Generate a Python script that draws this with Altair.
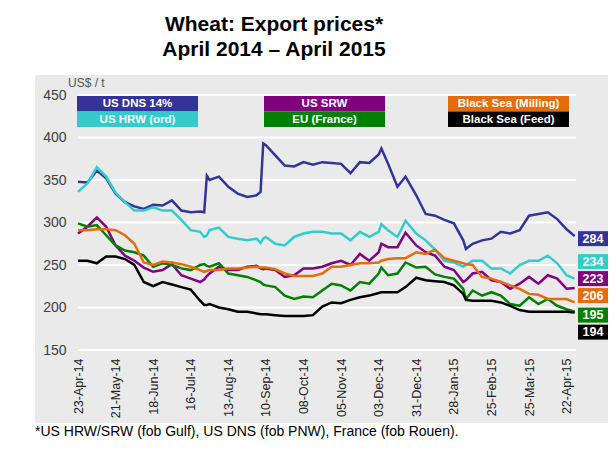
import altair as alt
import pandas as pd

# ---- data -------------------------------------------------------------
dates = [
    "2014-04-23", "2014-04-30", "2014-05-07", "2014-05-14", "2014-05-21", "2014-05-28",
    "2014-06-04", "2014-06-11", "2014-06-18", "2014-06-25", "2014-07-02", "2014-07-09",
    "2014-07-16", "2014-07-23", "2014-07-26", "2014-07-28", "2014-07-30", "2014-08-06",
    "2014-08-13", "2014-08-20", "2014-08-27", "2014-09-03", "2014-09-06", "2014-09-08",
    "2014-09-10", "2014-09-17", "2014-09-24", "2014-10-01", "2014-10-08", "2014-10-15",
    "2014-10-22", "2014-10-29", "2014-11-05", "2014-11-12", "2014-11-19", "2014-11-26",
    "2014-12-03", "2014-12-05", "2014-12-10", "2014-12-17", "2014-12-23", "2014-12-31",
    "2015-01-07", "2015-01-14", "2015-01-21", "2015-01-28", "2015-02-04", "2015-02-06",
    "2015-02-11", "2015-02-18", "2015-02-25", "2015-03-04", "2015-03-11", "2015-03-18",
    "2015-03-25", "2015-04-01", "2015-04-08", "2015-04-15", "2015-04-22", "2015-04-28",
]

us_dns = [348, 347, 361, 352, 334, 324, 319, 316, 321, 320, 326, 314, 312, 313,
          312, 355, 350, 354, 342, 334, 330, 332, 336, 393, 391,
          379, 367, 366, 371, 368, 371, 370, 369, 358, 371, 370, 380, 387,
          369, 342, 354, 332, 310, 308, 303, 299, 279, 269,
          275, 279, 281, 289, 287, 291, 308, 310, 312, 304, 292, 284]

us_hrw = [336, 346, 365, 354, 335, 324, 314, 314, 318, 314, 314, 303, 291, 289,
          283, 285, 291, 294, 283, 281, 279, 281, 276, 281, 283,
          275, 273, 283, 287, 289, 289, 287, 287, 279, 289, 283, 289, 298,
          291, 283, 302, 287, 279, 268, 255, 253, 248, 250,
          255, 255, 246, 246, 240, 250, 255, 255, 261, 252, 238, 234]

us_srw = [287, 295, 306, 295, 273, 261, 255, 247, 242, 244, 251, 238, 234, 230,
          233, 237, 240, 248, 244, 244, 248, 249, 246, 245, 246,
          244, 236, 238, 246, 246, 248, 252, 255, 250, 263, 255, 265, 275,
          271, 271, 288, 273, 265, 261, 248, 244, 230, 232,
          240, 242, 232, 230, 222, 228, 236, 228, 238, 234, 222, 223]

eu_france = [299, 295, 297, 285, 273, 267, 265, 261, 248, 252, 250, 246, 244, 250,
             251, 249, 248, 252, 240, 238, 236, 232, 230, 227, 226,
             224, 214, 210, 213, 212, 220, 228, 226, 220, 230, 228, 240, 247,
             238, 240, 253, 247, 248, 239, 236, 234, 222, 210,
             220, 214, 218, 214, 204, 202, 212, 204, 210, 202, 198, 195]

bs_milling = [291, 291, 292, 292, 291, 285, 275, 253, 250, 254, 253, 251, 248, 244,
              242, 243, 244, 244, 246, 246, 247, 248, 247, 247, 247,
              245, 240, 237, 237, 237, 240, 248, 248, 250, 252, 252, 253, 255,
              257, 258, 258, 265, 263, 268, 258, 255, 252, 251,
              250, 236, 234, 230, 226, 222, 216, 215, 210, 210, 210, 206]

bs_feed = [255, 255, 252, 260, 260, 257, 250, 230, 225, 230, 227, 224, 221, 208,
           203, 203, 204, 200, 198, 195, 195, 193, 192, 192, 192,
           191, 190, 190, 190, 191, 201, 206, 205, 209, 212, 214, 217, 218,
           218, 218, 224, 235, 232, 231, 230, 226, 216, 209,
           208, 208, 208, 206, 202, 197, 195, 195, 195, 195, 195, 194]

series_names = ["US DNS 14%", "US HRW (ord)", "US SRW", "EU (France)",
                "Black Sea (Milling)", "Black Sea (Feed)"]
series_colors = ["#333399", "#33CCCC", "#800080", "#008000", "#E46C0A", "#000000"]
series_values = [us_dns, us_hrw, us_srw, eu_france, bs_milling, bs_feed]

end_values = [284, 234, 223, 206, 195, 194]
end_colors = ["#333399", "#33CCCC", "#800080", "#E46C0A", "#008000", "#000000"]
# where the end-value boxes sit (US$/t), spread out so they do not overlap
end_label_pos = [281, 254, 234, 214, 191, 171]

tick_days = [0, 28, 56, 84, 112, 140, 168, 196, 224, 252, 280, 308, 336, 364]
tick_labels = ["23-Apr-14", "21-May-14", "18-Jun-14", "16-Jul-14", "13-Aug-14",
               "10-Sep-14", "08-Oct-14", "05-Nov-14", "03-Dec-14", "31-Dec-14",
               "28-Jan-15", "25-Feb-15", "25-Mar-15", "22-Apr-15"]
y_ticks = [150, 200, 250, 300, 350, 400, 450]

title_lines = ["Wheat: Export prices*", "April 2014 \u2013 April 2015"]
footnote = "*US HRW/SRW (fob Gulf), US DNS (fob PNW), France (fob Rouen)."
unit_label = "US$ / t"

# ---- build tables -------------------------------------------------------
start = pd.Timestamp(dates[0])
days = [(pd.Timestamp(d) - start).days for d in dates]
rows = []
for name, vals in zip(series_names, series_values):
    for d, v in zip(days, vals):
        rows.append({"day": d, "series": name, "price": v})
df = pd.DataFrame(rows)

W, H = 498, 255
FONT = "Liberation Sans"
X_DOMAIN = [0, 371]
Y_DOMAIN = [150, 450]

xs = alt.Scale(domain=X_DOMAIN, nice=False, zero=False)
ys = alt.Scale(domain=Y_DOMAIN, nice=False, zero=False)

one = pd.DataFrame({"a": [0]})

background = alt.Chart(one).mark_rect(color="#EAEAEA").encode(
    x=alt.value(-43), x2=alt.value(540), y=alt.value(-20), y2=alt.value(328)
)

grid = alt.Chart(pd.DataFrame({"v": y_ticks})).mark_rule(color="white", strokeWidth=2).encode(
    y=alt.Y("v:Q", scale=ys), x=alt.value(0), x2=alt.value(W)
)

label_js = "[" + ",".join("'%s'" % t for t in tick_labels) + "][round(datum.value / 28)]"

lines = alt.Chart(df).mark_line(strokeWidth=2.5).encode(
    x=alt.X("day:Q", scale=xs,
            axis=alt.Axis(values=tick_days, labelExpr=label_js, title=None, grid=False,
                          domain=False, ticks=False, labelAngle=270, labelAlign="right",
                          labelBaseline="middle", labelPadding=8, labelFontSize=12.5,
                          labelColor="#222222", labelFont=FONT, zindex=1,
                          labelOverlap=False)),
    y=alt.Y("price:Q", scale=ys,
            axis=alt.Axis(values=y_ticks, title=None, grid=False, domain=False, ticks=False,
                          labelPadding=12, labelFontSize=14, labelColor="#404040",
                          labelFont=FONT, zindex=1)),
    color=alt.Color("series:N", scale=alt.Scale(domain=series_names, range=series_colors),
                    legend=None),
    detail="series:N",
)

# legend boxes
leg = pd.DataFrame({
    "name": series_names,
    "color": series_colors,
    "x0": [-1, -1, 186, 186, 370, 370],
    "y0": [1, 16.5, 1, 16.5, 1, 16.5],
})
leg["x1"] = leg["x0"] + 121
leg["y1"] = leg["y0"] + 15.5
leg["xc"] = leg["x0"] + 60.5
leg["yc"] = leg["y0"] + 8.3

leg_rect = alt.Chart(leg).mark_rect().encode(
    x=alt.X("x0:Q", scale=None), x2="x1", y=alt.Y("y0:Q", scale=None), y2="y1",
    color=alt.Color("color:N", scale=None),
)
leg_text = alt.Chart(leg).mark_text(color="white", fontWeight="bold", fontSize=11.5,
                                     font=FONT, baseline="middle", align="center").encode(
    x=alt.X("xc:Q", scale=None), y=alt.Y("yc:Q", scale=None), text="name:N"
)

# end labels
ends = pd.DataFrame({"val": end_values, "color": end_colors, "pos": end_label_pos})
ends["lo"] = ends["pos"] - 8.8
ends["hi"] = ends["pos"] + 8.8
end_rect = alt.Chart(ends).mark_rect().encode(
    x=alt.value(500), x2=alt.value(530),
    y=alt.Y("hi:Q", scale=ys), y2="lo",
    color=alt.Color("color:N", scale=None),
)
end_text = alt.Chart(ends).mark_text(color="white", fontWeight="bold", fontSize=12.5,
                                      font=FONT, baseline="middle", align="center").encode(
    x=alt.value(515), y=alt.Y("pos:Q", scale=ys), text="val:Q"
)

titles = pd.DataFrame({"t": title_lines, "yy": [-64.5, -39.5]})
title_text = alt.Chart(titles).mark_text(fontSize=21, fontWeight="bold", font=FONT,
                                          color="black", align="center",
                                          baseline="alphabetic").encode(
    x=alt.value(196), y=alt.Y("yy:Q", scale=None), text="t:N"
)

unit_text = alt.Chart(pd.DataFrame({"t": [unit_label]})).mark_text(
    fontSize=12, font=FONT, color="#555555", align="left", baseline="middle").encode(
    x=alt.value(-10), y=alt.value(-12), text="t:N"
)

foot_text = alt.Chart(pd.DataFrame({"t": [footnote]})).mark_text(
    fontSize=14, font=FONT, color="black", align="left", baseline="alphabetic").encode(
    x=alt.value(-43), y=alt.value(341), text="t:N"
)

chart = alt.layer(
    background, grid, lines, leg_rect, leg_text, end_rect, end_text,
    title_text, unit_text, foot_text
).properties(
    width=W, height=H,
    autosize=alt.AutoSizeParams(type="none"),
    padding={"left": 70, "top": 87, "right": 32, "bottom": 95},
    background="white",
).configure_view(stroke=None)

chart.save("out.html", embed_options={"renderer": "svg", "actions": False})
